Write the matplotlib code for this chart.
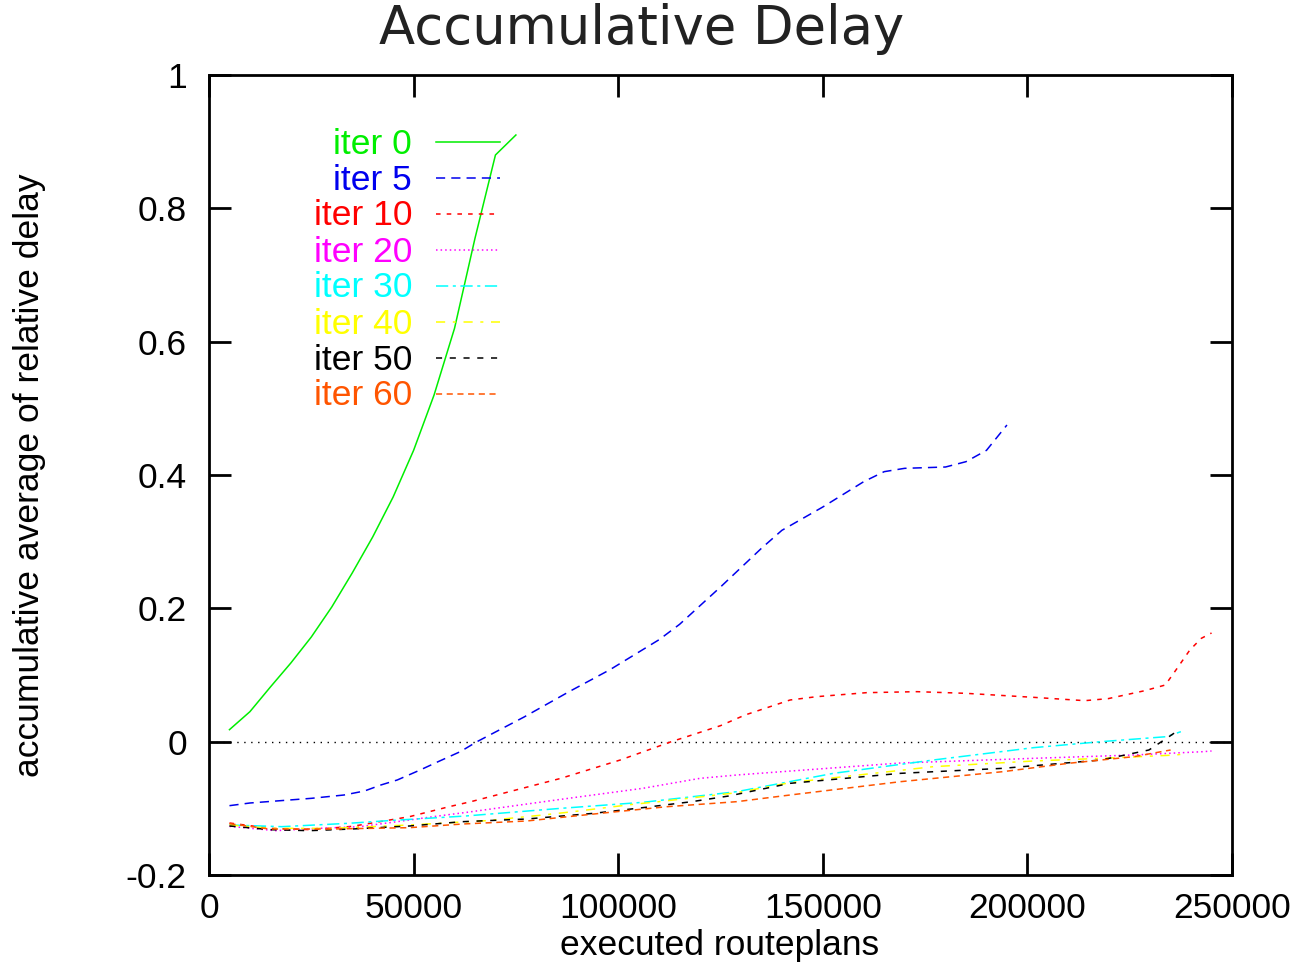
import matplotlib
matplotlib.use("Agg")
import matplotlib.pyplot as plt

plt.rcParams['font.family'] = ['Liberation Sans', 'DejaVu Sans']

# ---- data ----
x0 = [5000, 10000, 15000, 20000, 25000, 30000, 35000, 40000, 45000, 50000,
      55000, 60000, 65000, 70000, 75000]
y0 = [0.018, 0.045, 0.082, 0.118, 0.157, 0.202, 0.253, 0.307, 0.367, 0.437,
      0.52, 0.62, 0.755, 0.88, 0.91]

x5 = [5000, 10000, 17500, 25000, 33000, 38000, 42000, 46000, 51600, 56000,
      61400, 65500, 77000, 88000, 98000, 110000, 115000, 125000, 135000,
      140000, 150000, 160000, 165000, 170000, 180000, 185000, 190000, 195000]
y5 = [-0.096, -0.092, -0.0885, -0.085, -0.08, -0.074, -0.065, -0.0575, -0.0425,
      -0.03, -0.015, 0.0, 0.037, 0.075, 0.108, 0.153, 0.176, 0.232, 0.29,
      0.317, 0.352, 0.39, 0.405, 0.41, 0.412, 0.42, 0.437, 0.475]

x10 = [5000, 15000, 25000, 35000, 49000, 58700, 64000, 86000, 100500, 113000,
       125000, 131000, 142000, 148500, 160700, 173000, 185000, 201500, 214000,
       219700, 228700, 233700, 236300, 239700, 242500, 245000]
y10 = [-0.122, -0.13, -0.132, -0.127, -0.1125, -0.0975, -0.09, -0.055, -0.0275,
       0.0, 0.024, 0.04, 0.0625, 0.0675, 0.0735, 0.075, 0.0725, 0.0665, 0.0615,
       0.0645, 0.0765, 0.085, 0.1075, 0.1375, 0.155, 0.163]

x20 = [5000, 16300, 27000, 36800, 46000, 56000, 63000, 86000, 106000, 120000,
       129000, 140000, 169000, 201500, 226000, 243000, 245000]
y20 = [-0.127, -0.1335, -0.13, -0.1275, -0.12, -0.1115, -0.106, -0.0865, -0.07,
       -0.055, -0.05, -0.045, -0.032, -0.025, -0.02, -0.015, -0.014]

x30 = [5000, 17800, 34000, 43800, 62700, 86000, 106000, 129000, 152600, 177000,
       201500, 218000, 234000, 237500]
y30 = [-0.125, -0.1275, -0.1225, -0.1185, -0.1115, -0.1, -0.091, -0.075,
       -0.0475, -0.0275, -0.009, 0.0, 0.0075, 0.015]

x40 = [5000, 15000, 30000, 49000, 67800, 81600, 89000, 103600, 110000, 122000,
       129000, 142000, 177000, 201500, 218000, 236300, 237500]
y40 = [-0.125, -0.13, -0.13, -0.125, -0.1185, -0.11, -0.105, -0.094, -0.09,
       -0.0815, -0.0765, -0.0615, -0.0375, -0.029, -0.025, -0.02, -0.019]

x50 = [5000, 15000, 24500, 35000, 49000, 62000, 77600, 94000, 106000, 118000,
       127000, 142000, 169000, 194000, 218000, 229700, 234000, 237000]
y50 = [-0.1265, -0.132, -0.1335, -0.131, -0.1265, -0.12, -0.116, -0.1075,
       -0.099, -0.09, -0.0815, -0.0625, -0.0475, -0.04, -0.0275, -0.0125, 0.005,
       0.0175]

x60 = [5000, 14700, 30000, 49000, 62000, 77600, 98000, 112000, 129000, 142000,
       169000, 194000, 210000, 226000, 235000]
y60 = [-0.123, -0.131, -0.131, -0.129, -0.1235, -0.119, -0.106, -0.0975, -0.09,
       -0.08, -0.06, -0.045, -0.0325, -0.0225, -0.0125]

labels = ['iter 0', 'iter 5', 'iter 10', 'iter 20', 'iter 30', 'iter 40',
          'iter 50', 'iter 60']
colors = ['#00ee00', '#0000ee', '#ff0000', '#ff00ff', '#00ffff', '#ffff00',
          '#000000', '#ff5500']
styles = ['-', (0, (6, 4)), (0, (3, 4)), (0, (1, 2)), (0, (8, 3, 2, 3)),
          (0, (6, 5, 2, 5)), (0, (4, 5)), (0, (4, 3, 4, 3))]

xticks = [0, 50000, 100000, 150000, 200000, 250000]
yticks = [-0.2, 0, 0.2, 0.4, 0.6, 0.8, 1]
ytick_labels = ['-0.2', '0', '0.2', '0.4', '0.6', '0.8', '1']

series = [(x0, y0), (x5, y5), (x10, y10), (x20, y20), (x30, y30), (x40, y40),
          (x50, y50), (x60, y60)]

W, H = 1301, 967
fig = plt.figure(figsize=(W / 100, H / 100), dpi=100)
L, R, T, B = 209, 1232, 75, 875
ax = fig.add_axes([L / W, 1 - B / H, (R - L) / W, (B - T) / H])

ax.axhline(0, color='black', lw=1, ls=(0, (1, 4)))

for (xs, ys), lab, c, s in zip(series, labels, colors, styles):
    ax.plot(xs, ys, color=c, ls=s, lw=1.1, label=lab)

ax.set_xlim(0, 250000)
ax.set_ylim(-0.2, 1)
ax.set_xticks(xticks)
ax.set_xticklabels([str(v) for v in xticks])
ax.set_yticks(yticks)
ax.set_yticklabels(ytick_labels)
ax.tick_params(direction='in', length=16, width=2, labelsize=25.5,
               top=True, right=True)
ax.tick_params(axis='y', pad=16)
ax.tick_params(axis='x', pad=12)
for sp in ax.spines.values():
    sp.set_linewidth(2)

fig.text(720 / W, 1 - 946 / H, 'executed routeplans', fontsize=25.5,
         ha='center', va='center')
fig.text(30 / W, 1 - 475 / H, 'accumulative average of relative delay',
         fontsize=25.5, ha='center', va='center', rotation=90)
fig.text(642 / W, 1 - 29 / H, 'Accumulative Delay', fontsize=38,
         ha='center', va='center', family=['DejaVu Sans'], color='#222222')

# key (gnuplot style: right-aligned coloured labels, sample line to the right)
for i, (lab, c, s) in enumerate(zip(labels, colors, styles)):
    yk = 1 - (142 + 36 * i - T) / (B - T)
    ax.text((412 - L) / (R - L), yk - 2 / (B - T), lab, transform=ax.transAxes,
            color=c, fontsize=25.5, ha='right', va='center')
    ax.plot([(436 - L) / (R - L), (500 - L) / (R - L)], [yk, yk],
            transform=ax.transAxes, color=c, ls=s, lw=1.1)

fig.savefig('out.png', dpi=100)
